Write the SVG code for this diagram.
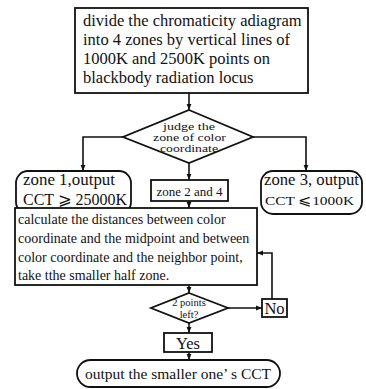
<svg xmlns="http://www.w3.org/2000/svg" width="366" height="389" viewBox="0 0 366 389" font-family="'Liberation Serif', 'DejaVu Serif', serif">
<defs>
<marker id="arr" viewBox="0 0 10 10" refX="10" refY="5" markerWidth="6" markerHeight="6" markerUnits="userSpaceOnUse" orient="auto">
<path d="M0,1 L10,5 L0,9 Z" fill="#111"/>
</marker>
<style>
.box{fill:#fff;stroke:#111;stroke-width:1.8}
.ln{fill:none;stroke:#111;stroke-width:1.6;marker-end:url(#arr)}
text{fill:#111}
.c{text-anchor:middle}
</style>
</defs>
<rect width="366" height="389" fill="#fff"/>
<g id="connectors">
<path class="ln" d="M189,93 V110"/>
<path class="ln" d="M123,137 H83 V171"/>
<path class="ln" d="M253,137 H306 V171"/>
<path class="ln" d="M189,163 V180"/>
<path class="ln" d="M189,201 V208"/>
<path class="ln" d="M189,285 V293"/>
<path class="ln" d="M228,308 H262"/>
<path class="ln" d="M272,299 V253 H257"/>
<path class="ln" d="M189,323 V333"/>
<path class="ln" d="M189,352 V360"/>
</g>
<g id="start">
<rect class="box" x="75" y="8" width="233" height="85"/>
<text x="83" y="26" font-size="16.5">divide the chromaticity adiagram</text>
<text x="83" y="45" font-size="16.5">into 4 zones by vertical lines of</text>
<text x="83" y="64" font-size="16.5">1000K and 2500K points on</text>
<text x="83" y="83" font-size="16.5">blackbody radiation locus</text>
</g>
<g id="judge">
<polygon class="box" points="189,110 253,137 189,163 123,137"/>
<text x="163" y="129.5" font-size="10.5" textLength="52" lengthAdjust="spacingAndGlyphs">judge the</text>
<text x="153" y="140.5" font-size="10.5" textLength="73" lengthAdjust="spacingAndGlyphs">zone of color</text>
<text x="160" y="151.5" font-size="10.5" textLength="58" lengthAdjust="spacingAndGlyphs">coordinate</text>
</g>
<g id="zone1">
<rect class="box" x="16" y="171" width="115" height="43" rx="12"/>
<text x="23" y="185" font-size="16.5" textLength="92" lengthAdjust="spacingAndGlyphs">zone 1,output</text>
<text x="23" y="205" font-size="16.5" textLength="104" lengthAdjust="spacingAndGlyphs">CCT ⩾ 25000K</text>
</g>
<g id="zone24">
<rect class="box" x="151" y="180" width="77" height="21"/>
<text class="c" x="189.5" y="195.5" font-size="13">zone 2 and 4</text>
</g>
<g id="zone3">
<rect class="box" x="261" y="171" width="101" height="43" rx="12"/>
<text x="264" y="185" font-size="16.5" textLength="95" lengthAdjust="spacingAndGlyphs">zone 3, output</text>
<text x="265" y="205" font-size="13.5" textLength="89" lengthAdjust="spacingAndGlyphs">CCT ⩽1000K</text>
</g>
<g id="calc">
<rect class="box" x="15" y="208" width="242" height="77"/>
<text x="18" y="224" font-size="14">calculate the distances between color</text>
<text x="18" y="243" font-size="14">coordinate and the midpoint and between</text>
<text x="18" y="262" font-size="14">color coordinate and the neighbor point,</text>
<text x="18" y="280" font-size="14">take tthe smaller half zone.</text>
</g>
<g id="check">
<polygon class="box" points="189,293 228,308 189,323 151,308"/>
<text class="c" x="189" y="306" font-size="10.5">2 points</text>
<text class="c" x="189" y="318" font-size="10.5">left?</text>
</g>
<g id="no">
<rect class="box" x="262" y="299" width="25" height="18"/>
<text class="c" x="274.5" y="314" font-size="16.5">No</text>
</g>
<g id="yes">
<rect class="box" x="164" y="333" width="48" height="19"/>
<text class="c" x="188" y="349" font-size="16.5">Yes</text>
</g>
<g id="output">
<rect class="box" x="77" y="360" width="203" height="27" rx="13.5"/>
<text class="c" x="178" y="379" font-size="15.5">output the smaller one’ s CCT</text>
</g>
</svg>
